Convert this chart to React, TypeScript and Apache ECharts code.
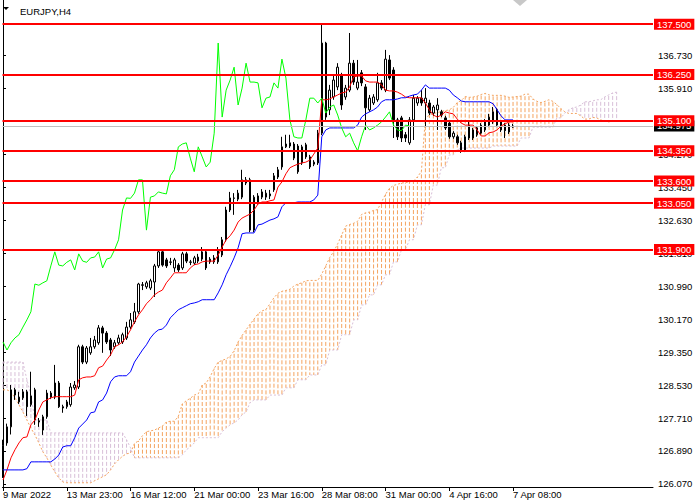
import React, { useEffect, useRef } from "react";
import * as echarts from "echarts";

const FONT = '"Liberation Sans", Arial, sans-serif';

// H4 candles, one per bar (bar 0 = 9 Mar 2022)
const opens = [
  126.42, 127.09, 127.49, 128.41, 128.11, 128.21, 128.36, 128.04, 128.41, 127.64,
  127.41, 127.74, 128.33, 128.23, 128.58, 127.99, 127.99, 128.04, 128.46, 128.48,
  129.48, 129.1, 129.33, 129.48, 129.58, 129.95, 129.82, 129.65, 129.48, 129.58,
  129.6, 129.7, 129.97, 130.1, 130.35, 131.02, 130.97, 130.94, 131.09, 131.49,
  131.84, 131.64, 131.59, 131.44, 131.51, 131.44, 131.79, 131.59, 131.56, 131.61,
  131.66, 131.84, 131.59, 131.59, 131.59, 131.76, 132.14, 132.88, 133.18, 133.15,
  133.2, 133.55, 133.63, 132.38, 133.06, 133.2, 133.2, 133.23, 133.38, 133.7,
  133.95, 134.45, 134.47, 134.52, 134.47, 134.05, 134.5, 134.2, 134.02, 134.05,
  134.79, 137.03, 135.37, 135.69, 135.94, 136.24, 135.69, 135.86, 136.53, 135.91,
  136.29, 135.94, 135.37, 135.54, 135.62, 136.04, 135.86, 136.61, 136.36, 135.12,
  135.17, 134.75, 134.55, 135.12, 135.54, 135.66, 135.54, 135.54, 135.29, 135.37,
  135.32, 135.17, 135.04, 134.7, 134.7, 134.55, 134.37, 134.67, 134.67, 134.75,
  134.79, 134.87, 134.99, 135.07, 135.37, 135.07, 134.99, 134.82, 134.94,
];
const closes = [
  127.02, 127.49, 128.41, 128.28, 128.23, 128.36, 127.99, 128.26, 127.66, 127.61,
  127.74, 128.33, 128.23, 128.58, 127.99, 127.96, 128.11, 128.48, 128.53, 129.48,
  129.1, 129.45, 129.48, 129.65, 129.95, 129.82, 129.6, 129.4, 129.58, 129.7,
  129.78, 129.97, 130.15, 130.35, 131.04, 131.01, 131.07, 131.12, 131.49, 131.84,
  131.51, 131.49, 131.58, 131.64, 131.39, 131.79, 131.61, 131.58, 131.69, 131.71,
  131.84, 131.44, 131.66, 131.69, 131.89, 132.14, 132.88, 133.18, 133.17, 133.3,
  133.63, 133.63, 132.38, 133.2, 133.23, 133.33, 133.3, 133.28, 133.73, 133.88,
  134.45, 134.52, 134.55, 134.17, 133.83, 134.45, 134.2, 133.95, 134.07, 134.79,
  137.03, 135.19, 135.86, 136.11, 136.43, 135.49, 135.91, 136.53, 136.06, 136.06,
  136.04, 135.42, 135.66, 135.69, 136.04, 135.91, 136.63, 136.16, 135.12, 134.7,
  134.67, 134.67, 135.12, 135.66, 135.66, 135.54, 135.66, 135.29, 135.44, 135.49,
  135.24, 134.92, 134.7, 134.79, 134.55, 134.35, 134.7, 134.99, 134.87, 134.92,
  134.99, 135.07, 135.19, 135.32, 134.99, 134.87, 134.85, 134.99, 134.97,
];
const highs = [
  127.17, 127.57, 128.53, 128.46, 128.36, 128.43, 128.41, 128.86, 128.46, 127.71,
  127.79, 128.41, 128.38, 129.03, 128.63, 128.04, 128.16, 128.58, 128.63, 129.53,
  129.53, 129.5, 129.7, 129.75, 130.02, 130.0, 129.87, 129.7, 129.65, 129.78,
  129.83, 130.1, 130.32, 130.57, 131.07, 131.09, 131.12, 131.17, 131.54, 131.89,
  131.89, 131.69, 131.69, 131.69, 131.56, 131.84, 131.84, 131.64, 131.74, 131.79,
  131.96, 131.89, 131.71, 131.76, 131.96, 132.21, 132.96, 133.33, 133.3, 133.38,
  133.88, 133.7, 133.68, 133.25, 133.3, 133.4, 133.38, 133.38, 133.8, 133.95,
  134.7, 134.75, 134.75, 134.57, 134.52, 134.5, 134.55, 134.25, 134.12, 134.87,
  137.48, 137.06, 135.99, 136.24, 136.53, 136.29, 135.99, 137.28, 136.61, 136.61,
  136.36, 136.01, 135.74, 135.76, 136.29, 136.11, 136.86, 136.73, 136.43, 135.17,
  135.22, 134.82, 135.19, 135.74, 135.71, 135.86, 135.91, 135.62, 135.49, 135.66,
  135.37, 135.22, 135.09, 134.84, 134.75, 134.6, 134.75, 135.07, 134.92, 134.97,
  135.04, 135.14, 135.27, 135.44, 135.42, 135.12, 135.04, 135.04, 135.02,
];
const lows = [
  126.22, 127.02, 127.3, 128.16, 128.06, 128.16, 127.76, 127.99, 127.54, 127.49,
  127.29, 127.69, 128.18, 128.18, 127.96, 127.84, 127.94, 127.99, 128.41, 128.43,
  129.05, 129.05, 129.28, 129.43, 129.53, 129.33, 129.55, 129.25, 129.43, 129.53,
  129.55, 129.65, 129.92, 130.05, 130.3, 130.89, 130.92, 130.89, 130.72, 131.44,
  131.47, 131.44, 131.51, 131.34, 131.34, 131.39, 131.56, 131.51, 131.51, 131.56,
  131.61, 131.39, 131.54, 131.54, 131.54, 131.71, 132.09, 132.83, 132.76, 133.1,
  133.15, 133.5, 132.33, 132.33, 133.01, 133.15, 133.13, 133.15, 133.33, 133.65,
  133.88, 134.42, 134.42, 134.12, 133.78, 134.0, 134.15, 133.9, 133.97, 134.0,
  134.74, 135.12, 135.24, 135.62, 135.86, 135.37, 135.62, 135.81, 135.99, 135.86,
  135.96, 134.87, 135.32, 135.49, 135.57, 135.86, 135.81, 136.11, 134.67, 134.62,
  134.57, 134.57, 134.5, 134.62, 135.47, 135.47, 134.94, 135.24, 135.22, 134.87,
  135.19, 134.87, 134.65, 134.65, 134.5, 134.3, 134.32, 134.62, 134.62, 134.7,
  134.75, 134.82, 134.94, 135.02, 134.94, 134.82, 134.67, 134.77, 134.92,
];

// Ichimoku lines
const tenkan = [
  126.17, 126.42, 126.72, 126.92, 127.09, 127.22, 127.24, 127.54, 127.66, 127.91,
  128.11, 128.16, 128.21, 128.24, 128.24, 128.24, 128.24, 128.24, 128.28, 128.66,
  128.71, 128.73, 128.73, 128.76, 128.96, 129.0, 129.15, 129.28, 129.48, 129.53,
  129.6, 129.73, 129.9, 130.1, 130.27, 130.4, 130.55, 130.65, 130.77, 130.84,
  130.89, 131.07, 131.19, 131.32, 131.32, 131.32, 131.32, 131.44, 131.52, 131.54,
  131.59, 131.61, 131.61, 131.61, 131.76, 131.96, 132.14, 132.24, 132.38, 132.58,
  132.68, 132.73, 132.78, 132.88, 133.03, 133.08, 133.08, 133.11, 133.13, 133.45,
  133.58, 133.78, 133.93, 133.98, 134.02, 134.05, 134.07, 134.12, 134.27, 134.42,
  135.62, 135.62, 135.64, 135.69, 135.74, 135.79, 135.81, 135.94, 136.19, 136.21,
  136.21, 136.09, 136.06, 136.06, 136.06, 135.99, 135.86, 135.84, 135.84, 135.81,
  135.76, 135.69, 135.67, 135.67, 135.67, 135.67, 135.54, 135.37, 135.24, 135.19,
  135.24, 135.32, 135.29, 135.27, 135.14, 135.04, 134.99, 134.99, 134.99, 134.87,
  134.72, 134.72, 134.8, 134.82, 134.87, 134.97, 135.02, 135.07, 135.07,
];
const kijun = [
  126.42, 126.42, 126.42, 126.42, 126.42, 126.42, 126.45, 126.62, 126.62, 126.62,
  126.62, 126.62, 126.62, 126.69, 126.79, 126.99, 127.02, 127.02, 127.22, 127.46,
  127.56, 127.66, 127.84, 127.86, 128.11, 128.16, 128.33, 128.61, 128.73, 128.76,
  128.76, 128.76, 128.86, 129.1, 129.25, 129.4, 129.53, 129.7, 129.82, 129.9,
  129.92, 130.02, 130.2, 130.3, 130.4, 130.45, 130.5, 130.55, 130.57, 130.6,
  130.65, 130.65, 130.65, 130.65, 130.82, 131.02, 131.27, 131.47, 131.69, 131.94,
  132.29, 132.31, 132.31, 132.31, 132.51, 132.53, 132.58, 132.63, 132.66, 132.71,
  132.96, 133.06, 133.06, 133.06, 133.08, 133.08, 133.08, 133.08, 133.13, 133.25,
  134.7, 134.87, 134.92, 134.92, 134.92, 134.92, 134.92, 134.92, 134.92, 134.99,
  135.19, 135.27, 135.32, 135.37, 135.44, 135.57, 135.62, 135.62, 135.62, 135.64,
  135.67, 135.67, 135.71, 135.74, 135.76, 135.86, 135.99, 135.91, 135.91, 135.91,
  135.91, 135.91, 135.86, 135.74, 135.67, 135.59, 135.57, 135.57, 135.57, 135.57,
  135.57, 135.57, 135.57, 135.52, 135.37, 135.22, 135.12, 135.12, 135.12,
];
// cloud edges, already drawn 26 bars ahead (155 bars)
const senkouA = [
  128.41, 128.41, 128.36, 128.21, 128.04, 127.86, 127.66, 127.46, 127.29, 127.09,
  126.87, 126.72, 126.54, 126.37, 126.22, 126.12, 126.1, 126.1, 126.1, 126.1,
  126.1, 126.1, 126.1, 126.15, 126.2, 126.25, 126.3, 126.42, 126.57, 126.67,
  126.76, 126.82, 126.84, 127.08, 127.14, 127.27, 127.37, 127.39, 127.41, 127.46,
  127.51, 127.61, 127.63, 127.63, 127.75, 128.06, 128.14, 128.2, 128.28, 128.31,
  128.53, 128.58, 128.74, 128.94, 129.1, 129.14, 129.18, 129.24, 129.38, 129.6,
  129.76, 129.9, 130.04, 130.17, 130.3, 130.37, 130.41, 130.55, 130.7, 130.81,
  130.86, 130.88, 130.91, 130.99, 131.04, 131.07, 131.12, 131.13, 131.13, 131.13,
  131.29, 131.49, 131.7, 131.85, 132.04, 132.26, 132.48, 132.52, 132.55, 132.6,
  132.77, 132.81, 132.83, 132.87, 132.89, 133.08, 133.27, 133.42, 133.49, 133.52,
  133.55, 133.56, 133.58, 133.6, 133.7, 133.84, 135.16, 135.24, 135.28, 135.3,
  135.33, 135.35, 135.37, 135.43, 135.55, 135.6, 135.7, 135.68, 135.69, 135.71,
  135.75, 135.78, 135.74, 135.73, 135.73, 135.73, 135.71, 135.68, 135.69, 135.7,
  135.71, 135.76, 135.76, 135.64, 135.58, 135.55, 135.58, 135.62, 135.58, 135.5,
  135.4, 135.32, 135.28, 135.28, 135.28, 135.22, 135.14, 135.14, 135.18, 135.17,
  135.12, 135.09, 135.07, 135.09, 135.09,
];
const senkouB = [
  129.1, 129.1, 129.1, 129.1, 129.1, 129.1, 128.66, 128.28, 127.66, 127.66,
  127.66, 127.66, 127.34, 127.34, 127.34, 127.34, 127.34, 127.34, 127.34, 127.34,
  127.34, 127.34, 127.34, 127.34, 127.34, 127.34, 127.34, 127.34, 127.34, 127.34,
  127.34, 127.17, 126.97, 126.72, 126.72, 126.72, 126.72, 126.72, 126.72, 126.72,
  126.72, 126.72, 126.72, 126.72, 126.72, 126.79, 126.92, 126.99, 127.09, 127.22,
  127.22, 127.22, 127.22, 127.22, 127.22, 127.37, 127.46, 127.54, 127.59, 127.66,
  127.79, 127.86, 128.09, 128.16, 128.16, 128.16, 128.16, 128.28, 128.28, 128.28,
  128.28, 128.46, 128.46, 128.46, 128.66, 128.66, 128.66, 128.78, 128.78, 128.78,
  129.03, 129.03, 129.4, 129.4, 129.4, 129.78, 129.78, 129.78, 130.15, 130.15,
  130.52, 130.52, 130.77, 130.77, 131.02, 131.02, 131.27, 131.27, 131.59, 131.59,
  131.89, 131.89, 132.14, 132.14, 132.51, 132.51, 133.01, 133.01, 133.5, 133.5,
  133.93, 133.93, 134.25, 134.25, 134.37, 134.42, 134.42, 134.42, 134.42, 134.42,
  134.42, 134.42, 134.42, 134.47, 134.47, 134.47, 134.47, 134.47, 134.47, 134.47,
  134.67, 134.67, 134.67, 134.94, 134.94, 134.94, 134.94, 134.94, 134.94, 135.17,
  135.17, 135.29, 135.37, 135.42, 135.44, 135.49, 135.57, 135.57, 135.59, 135.62,
  135.62, 135.69, 135.74, 135.79, 135.81,
];
const chikouShift = 26;

const levels = [137.5, 136.25, 135.1, 134.35, 133.6, 133.05, 131.9];
const bidPrice = 134.975;
const priceTicks = [
  126.07, 126.89, 127.71, 128.53, 129.35, 130.17, 130.99, 131.81, 132.63,
  133.45, 134.27, 135.09, 135.91, 136.73,
];
const timeLabels = [
  "9 Mar 2022", "13 Mar 23:00", "16 Mar 12:00", "21 Mar 00:00", "23 Mar 16:00",
  "28 Mar 08:00", "31 Mar 00:00", "4 Apr 16:00", "7 Apr 08:00",
];
const barsPerLabel = 16;

const App = () => {
  const ref = useRef<HTMLDivElement>(null);

  useEffect(() => {
    const chart = echarts.init(ref.current, null, { renderer: "svg" });

    const candles = opens.map((o, i) => [i, o, closes[i], lows[i], highs[i]]);
    const toLine = (arr: number[]) => arr.map((v, i) => [i, v]);
    const cloud = senkouA.map((a, i) => [i, a, senkouB[i]]);
    const chikou = closes.slice(chikouShift).map((c, i) => [i, c]);
    const labelBars = timeLabels.map((_, k) => k * barsPerLabel);

    chart.setOption({
      animation: false,
      backgroundColor: "#fff",
      textStyle: { fontFamily: FONT },
      title: {
        text: "EURJPY,H4",
        left: 15,
        top: 1,
        textStyle: { fontSize: 9.5, fontWeight: "normal", color: "#000", fontFamily: FONT },
      },
      graphic: [
        { type: "polygon", shape: { points: [[3, 7], [9, 7], [6, 10]] }, style: { fill: "#000" } },
        { type: "polygon", shape: { points: [[513, 0], [527, 0], [520, 6]] }, style: { fill: "#c8c8c8" } },
      ],
      grid: { left: 0, top: 0, right: 47, bottom: 13 },
      xAxis: {
        type: "value",
        min: -0.125,
        max: 163.125,
        axisLine: { show: true, lineStyle: { color: "#000", width: 1 } },
        axisTick: { show: true, length: 4, customValues: labelBars, lineStyle: { color: "#000" } },
        axisLabel: {
          customValues: labelBars,
          formatter: (v: number) => timeLabels[Math.round(v / barsPerLabel)],
          align: "left",
          margin: 2,
          color: "#000",
          fontSize: 9.5,
          fontFamily: FONT,
        },
        splitLine: { show: false },
      },
      yAxis: {
        type: "value",
        position: "right",
        min: 125.995,
        max: 138.1,
        axisLine: { show: true, lineStyle: { color: "#000", width: 1 } },
        axisTick: { show: true, length: 3, customValues: priceTicks, lineStyle: { color: "#000" } },
        axisLabel: {
          customValues: priceTicks,
          formatter: (v: number) => v.toFixed(3),
          margin: 5,
          color: "#000",
          fontSize: 9.5,
          fontFamily: FONT,
        },
        splitLine: { show: false },
      },
      series: [
        {
          name: "cloud",
          type: "custom",
          z: 1,
          silent: true,
          data: cloud,
          renderItem: (params: any, api: any) => {
            const i = api.value(0);
            const a = api.value(1);
            const b = api.value(2);
            const p1 = api.coord([i, Math.max(a, b)]);
            const p2 = api.coord([i, Math.min(a, b)]);
            return {
              type: "line",
              shape: { x1: p1[0], y1: p1[1], x2: p2[0], y2: p2[1] },
              style: {
                stroke: a >= b ? "#f4a460" : "#d8bfd8",
                lineWidth: 1,
                lineDash: [4, 2],
                lineDashOffset: p1[1] % 6,
              },
            };
          },
        },
        {
          name: "Senkou A",
          type: "line",
          z: 1,
          silent: true,
          data: toLine(senkouA),
          showSymbol: false,
          symbol: "none",
          lineStyle: { color: "#f4a460", width: 1, type: [2, 2] },
        },
        {
          name: "Senkou B",
          type: "line",
          z: 1,
          silent: true,
          data: toLine(senkouB),
          showSymbol: false,
          symbol: "none",
          lineStyle: { color: "#d8bfd8", width: 1, type: [2, 2] },
        },
        {
          name: "EURJPY",
          type: "candlestick",
          z: 2,
          silent: true,
          barWidth: 2,
          data: candles,
          itemStyle: {
            color: "#fff",
            color0: "#000",
            borderColor: "#000",
            borderColor0: "#000",
            borderColorDoji: "#000",
            borderWidth: 1,
          },
          markLine: {
            silent: true,
            symbol: ["none", "none"],
            lineStyle: { color: "#c0c0c0", width: 1, type: "solid" },
            label: {
              position: "end",
              distance: 1,
              formatter: () => bidPrice.toFixed(3),
              color: "#fff",
              backgroundColor: "#000",
              padding: [1, 3, 0, 3],
              fontSize: 9.5,
              fontFamily: FONT,
            },
            data: [{ yAxis: bidPrice }],
          },
        },
        {
          name: "Tenkan",
          type: "line",
          z: 3,
          silent: true,
          data: toLine(tenkan),
          showSymbol: false,
          symbol: "none",
          lineStyle: { color: "#ff0000", width: 1 },
        },
        {
          name: "Kijun",
          type: "line",
          z: 3,
          silent: true,
          data: toLine(kijun),
          showSymbol: false,
          symbol: "none",
          lineStyle: { color: "#0000ff", width: 1 },
        },
        {
          name: "Chikou",
          type: "line",
          z: 3,
          silent: true,
          data: chikou,
          showSymbol: false,
          symbol: "none",
          lineStyle: { color: "#00ff00", width: 1 },
        },
        {
          name: "levels",
          type: "line",
          z: 10,
          silent: true,
          data: [],
          markLine: {
            silent: true,
            symbol: ["none", "none"],
            lineStyle: { color: "#ff0000", width: 2, type: "solid" },
            label: {
              position: "end",
              distance: 1,
              formatter: (p: any) => Number(p.value).toFixed(3),
              color: "#fff",
              backgroundColor: "#ff0000",
              padding: [1, 3, 0, 3],
              fontSize: 9.5,
              fontFamily: FONT,
            },
            data: levels.map((v) => ({ yAxis: v })),
          },
        },
      ],
    });

    return () => {
      chart.dispose();
    };
  }, []);

  return (
    <div
      ref={ref}
      style={{ position: "absolute", left: 0, top: 0, width: 700, height: 500, background: "#fff" }}
    />
  );
};

export default App;
